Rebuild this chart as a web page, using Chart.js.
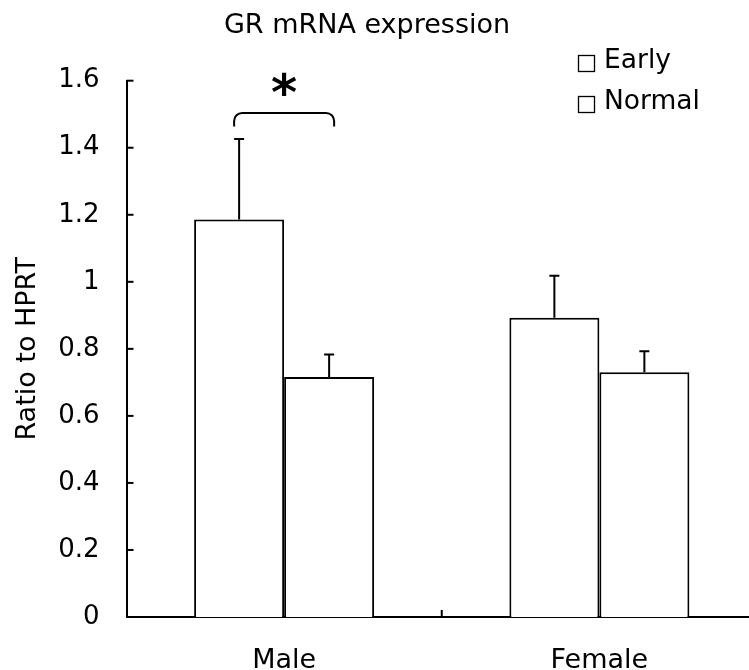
<!DOCTYPE html>
<html>
<head>
<meta charset="utf-8">
<script src="https://cdn.jsdelivr.net/npm/chart.js@4/dist/chart.umd.min.js"></script>
<style>
  html, body { margin: 0; padding: 0; background: #fff; overflow: hidden; }
  #wrap { width: 757px; height: 670px; }
</style>
</head>
<body>
<div id="wrap"><canvas id="myChart"></canvas></div>
<script>
const categories = ["Male", "Female"];
const seriesNames = ["Early", "Normal"];
const earlyValues = [1.186, 0.893];
const normalValues = [0.716, 0.730];
const earlyErrors = [0.240, 0.125];
const normalErrors = [0.067, 0.063];
const yTicks = [0, 0.2, 0.4, 0.6, 0.8, 1, 1.2, 1.4, 1.6];
const chartTitle = "GR mRNA expression";
const yTitle = "Ratio to HPRT";

const FONT = "'DejaVu Sans', sans-serif";
const errors = [earlyErrors, normalErrors];

// error bars, axis ticks, titles, legend and significance mark
const extras = {
  id: "extras",
  afterDatasetsDraw(chart) {
    const ctx = chart.ctx;
    const x = chart.scales.x;
    const y = chart.scales.y;
    ctx.save();
    ctx.strokeStyle = "#000";
    ctx.fillStyle = "#000";
    ctx.lineWidth = 2;

    chart.data.datasets.forEach((ds, i) => {
      chart.getDatasetMeta(i).data.forEach((bar, j) => {
        const top = y.getPixelForValue(ds.data[j] + errors[i][j]);
        ctx.beginPath();
        ctx.moveTo(bar.x, bar.y);
        ctx.lineTo(bar.x, top);
        ctx.moveTo(bar.x - 5, top);
        ctx.lineTo(bar.x + 5, top);
        ctx.stroke();
      });
    });

    // inside ticks on y axis
    yTicks.forEach((v) => {
      const py = y.getPixelForValue(v);
      ctx.beginPath();
      ctx.moveTo(x.left, py);
      ctx.lineTo(x.left + 7, py);
      ctx.stroke();
    });
    // tick between categories
    const mid = (x.getPixelForValue(0) + x.getPixelForValue(1)) / 2;
    ctx.beginPath();
    ctx.moveTo(mid, y.bottom);
    ctx.lineTo(mid, y.bottom - 7);
    ctx.stroke();

    // significance bracket over Male
    const b0 = chart.getDatasetMeta(0).data[0];
    const b1 = chart.getDatasetMeta(1).data[0];
    const x0 = b0.x - 5, x1 = b1.x + 5;
    const yTop = y.getPixelForValue(1.504);
    const yEnd = y.getPixelForValue(1.463);
    const r = 8;
    ctx.beginPath();
    ctx.moveTo(x0, yEnd);
    ctx.arcTo(x0, yTop, x0 + r, yTop, r);
    ctx.lineTo(x1 - r, yTop);
    ctx.arcTo(x1, yTop, x1, yEnd, r);
    ctx.lineTo(x1, yEnd);
    ctx.stroke();
    ctx.font = "bold 50px " + FONT;
    ctx.textAlign = "center";
    ctx.textBaseline = "middle";
    ctx.fillText("*", (x0 + x1) / 2, y.getPixelForValue(1.59) + 13);

    // chart title
    ctx.font = "27px " + FONT;
    ctx.textBaseline = "alphabetic";
    ctx.fillText(chartTitle, 367, 33);

    // y axis title
    ctx.save();
    ctx.translate(35, (y.top + y.bottom) / 2);
    ctx.rotate(-Math.PI / 2);
    ctx.font = "27px " + FONT;
    ctx.fillText(yTitle, 0, 0);
    ctx.restore();

    // legend
    ctx.font = "26.5px " + FONT;
    ctx.textAlign = "left";
    ctx.lineWidth = 1.3;
    seriesNames.forEach((name, i) => {
      const base = 68 + i * 41;
      ctx.strokeRect(578.5, base - 12.5, 16, 16);
      ctx.fillText(name, 604, base);
    });
    ctx.restore();
  },
};

new Chart(document.getElementById("myChart"), {
  type: "bar",
  data: {
    labels: categories,
    datasets: [
      {
        label: seriesNames[0],
        data: earlyValues,
        backgroundColor: "#fff",
        borderColor: "#000",
        borderWidth: 2,
      },
      {
        label: seriesNames[1],
        data: normalValues,
        backgroundColor: "#fff",
        borderColor: "#000",
        borderWidth: 2,
      },
    ],
  },
  options: {
    responsive: true,
    maintainAspectRatio: false,
    animation: false,
    layout: { padding: { left: 0, right: 0, top: 80.7, bottom: 0 } },
    datasets: { bar: { barPercentage: 1, categoryPercentage: 0.571 } },
    plugins: {
      legend: { display: false },
      tooltip: { enabled: false },
      title: { display: false },
    },
    scales: {
      x: {
        grid: { display: false },
        border: { display: true, color: "#000", width: 2 },
        ticks: {
          color: "#000",
          padding: 20,
          font: { family: FONT, size: 27 },
        },
        afterFit(scale) { scale.height = 53; },
      },
      y: {
        min: 0,
        max: 1.6,
        afterBuildTicks(scale) { scale.ticks = yTicks.map((v) => ({ value: v })); },
        grid: { display: false },
        border: { display: true, color: "#000", width: 2 },
        ticks: {
          color: "#000",
          padding: 19,
          font: { family: FONT, size: 26 },
          callback: (v) => String(v),
        },
        afterFit(scale) { scale.width = 126.5; },
      },
    },
  },
  plugins: [extras],
});
</script>
</body>
</html>
